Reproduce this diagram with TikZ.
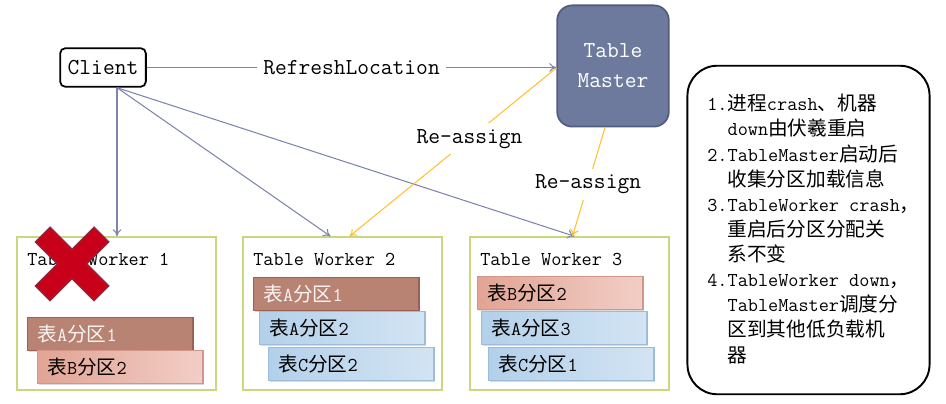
\documentclass[tikz,border=0pt]{standalone}
\usepackage{fontspec}
\newfontfamily\cjkfont{Noto Sans CJK SC}[Scale=1.0]
\usetikzlibrary{arrows.meta,calc,shadows}
\newcommand\zh[1]{{\cjkfont #1}}

\definecolor{twgreen}{HTML}{C9D87C}
\definecolor{brownbar}{HTML}{B98373}
\definecolor{brownline}{HTML}{9A6255}
\definecolor{pinkl}{HTML}{E2A494}
\definecolor{pinkr}{HTML}{F2CEC6}
\definecolor{pinkline}{HTML}{D39589}
\definecolor{bluel}{HTML}{B3D0EA}
\definecolor{bluer}{HTML}{D3E4F3}
\definecolor{blueline}{HTML}{9DBCD9}
\definecolor{masterfill}{HTML}{6D7A9D}
\definecolor{masterline}{HTML}{525E80}
\definecolor{linkblue}{HTML}{7D85AD}
\definecolor{moveorange}{HTML}{FFC133}
\definecolor{xred}{HTML}{C8001A}
\definecolor{xline}{HTML}{7A3A4C}

\tikzset{
  base/.style={font=\ttfamily\fontsize{11.2}{13}\selectfont},
  big/.style={font=\ttfamily\fontsize{13}{17}\selectfont},
  worker/.style={draw=twgreen, line width=1.2pt, minimum width=112.8pt, minimum height=86.7pt},
  title/.style={base, anchor=west, inner sep=0pt},
  part/.style={base, anchor=north west, text width=83pt, inner xsep=5.5pt, inner ysep=0pt,
    minimum height=18.7pt, align=left, line width=0.8pt,
    drop shadow={shadow xshift=0.8pt, shadow yshift=-0.8pt, opacity=0.25, fill=black!60}},
  parta/.style={part, fill=brownbar, draw=brownline, text=white!92!brownbar},
  partb/.style={part, left color=pinkl, right color=pinkr, draw=pinkline},
  partc/.style={part, left color=bluel, right color=bluer, draw=blueline},
  link/.style={draw=linkblue, line width=0.6pt, -{To[length=4pt,width=5pt]}},
  move/.style={draw=moveorange, line width=0.6pt, -{To[length=4pt,width=5pt]}},
}

\begin{document}
\begin{tikzpicture}[x=0.02cm, y=-0.02cm]
    \useasboundingbox (0,0) rectangle (946,404);

    % client and master
    \node[big, draw, line width=1pt, rounded corners=3pt, minimum width=48.8pt, minimum height=22pt] (client) at (103,67.5) {Client};
    \node[big, fill=masterfill, draw=masterline, line width=1pt, rounded corners=8.5pt, text=white,
          minimum width=63.5pt, minimum height=69pt, align=center] (master) at (613,66) {Table\\Master};

    % table workers
    \node[worker] (tw1) at (116.5,313.5) {};
    \node[worker] (tw2) at (342.5,313.5) {};
    \node[worker] (tw3) at (569.5,313.5) {};
    \node[title] (tw1t) at (27,259) {Table Worker 1};
    \node[title] (tw2t) at (253,259) {Table Worker 2};
    \node[title] (tw3t) at (480,259) {Table Worker 3};

    % partitions
    \node[parta] (p1a) at (27,317) {\zh{表}A\zh{分区}1};
    \node[partb] (p1b) at (37,350) {\zh{表}B\zh{分区}2};
    \node[parta] (p2a) at (253,277) {\zh{表}A\zh{分区}1};
    \node[partc] (p2b) at (259,311) {\zh{表}A\zh{分区}2};
    \node[partc] (p2c) at (268,347) {\zh{表}C\zh{分区}2};
    \node[partb] (p3a) at (477,276) {\zh{表}B\zh{分区}2};
    \node[partc] (p3b) at (481,311) {\zh{表}A\zh{分区}3};
    \node[partc] (p3c) at (488,347) {\zh{表}C\zh{分区}1};

    % crashed worker
    \begin{scope}[shift={(72,264)}]
        \filldraw[fill=xred, draw=xline, line width=0.6pt] (0,-15) -- (22,-37) -- (37,-22) -- (15,0) -- (37,22) -- (22,37)
            -- (0,15) -- (-22,37) -- (-37,22) -- (-15,0) -- (-37,-22) -- (-22,-37) -- cycle;
    \end{scope}

    % connectors
    \coordinate (cl) at ($(client.south)+(14,0)$);
    \draw[link] (client.east) -- node[big, fill=white] {RefreshLocation} (client.east -| master.west);
    \draw[link] (cl) -- (cl |- tw1.north);
    \draw[link] (cl) -- ($(tw2.north)+(-12,0)$);
    \draw[link] (cl) -- ($(tw3.north)+(5,0)$);
    \draw[move] ($(master.west)+(0,2)$) -- node[big, pos=0.42, fill=white] {Re-assign} ($(tw2.north)+(7,0)$);
    \draw[move] ($(master.south)+(-8,0)$) -- node[big, pos=0.52, fill=white] {Re-assign} ($(tw3.north)+(3,0)$);

    % notes
    \node[draw, line width=1.1pt, rounded corners=17pt, minimum width=137.8pt, minimum height=187pt] (notebox) at (808.5,230) {};
    \node[anchor=west, align=left, inner sep=0pt, font=\ttfamily\fontsize{11.2}{14.3}\selectfont] (notes) at (707,229) {%
        1.\zh{进程}crash\zh{、机器}\\
        \phantom{1.}down\zh{由伏羲重启}\\
        2.TableMaster\zh{启动后}\\
        \phantom{2.}\zh{收集分区加载信息}\\
        3.TableWorker crash\zh{，}\\
        \phantom{3.}\zh{重启后分区分配关}\\
        \phantom{3.}\zh{系不变}\\
        4.TableWorker down\zh{，}\\
        \phantom{4.}TableMaster\zh{调度分}\\
        \phantom{4.}\zh{区到其他低负载机}\\
        \phantom{4.}\zh{器}};
\end{tikzpicture}
\end{document}
